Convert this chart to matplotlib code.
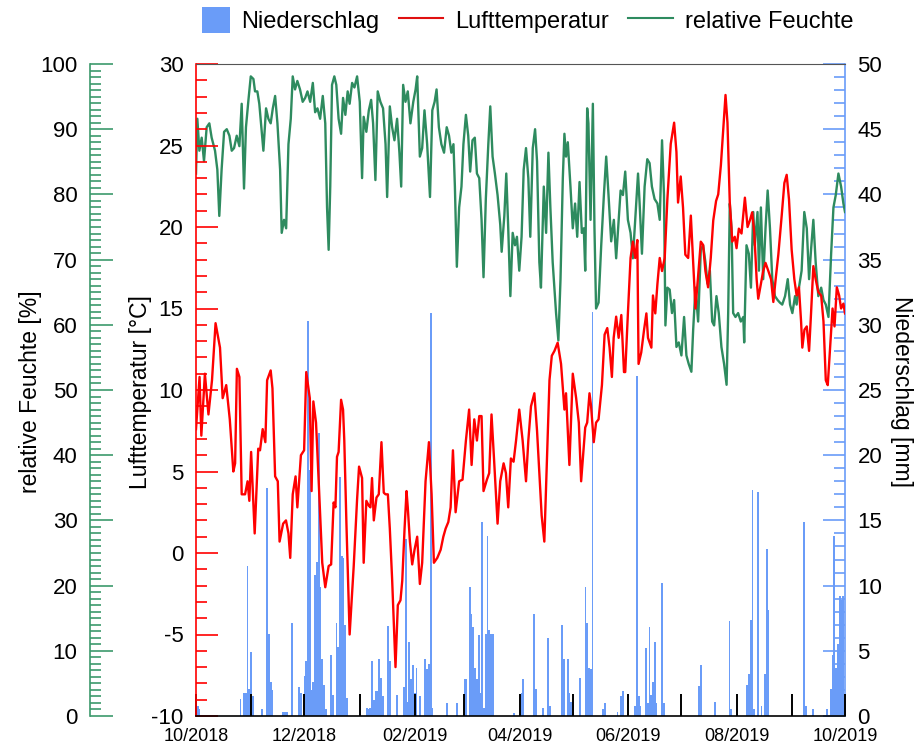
import numpy as np
import matplotlib
matplotlib.use("Agg")
import matplotlib.pyplot as plt
import matplotlib.dates as mdates
from matplotlib.patches import Patch, Rectangle
from matplotlib.lines import Line2D
from matplotlib.legend_handler import HandlerPatch
from datetime import datetime

plt.rcParams['font.family'] = ['Liberation Sans', 'DejaVu Sans']
plt.rcParams['axes.unicode_minus'] = False

# days since 01.10.2018
temp_day = [0, 2, 3, 5, 7, 9, 11, 13.5, 15, 17, 19, 21, 22, 23, 24.4, 25.7, 27.6, 29, 30, 31,
            33, 35, 36, 37.5, 39, 40, 42, 43, 44.5, 46, 47, 49, 50.6, 52, 53, 54.4, 56, 57, 59, 60.8,
            62, 64, 65, 66, 67.5, 69, 71, 72.7, 74.6, 76, 77.4, 78.4, 79.3, 80.2, 81.6, 82.7, 83.4, 84.6, 86.4, 88.7,
            90.6, 91.7, 93.4, 94.3, 95.8, 97.2, 98.1, 99, 100, 101.5, 102.8, 104.3, 105.6, 106.6, 107.9, 109, 110.3, 112.2, 113.5, 115,
            116, 117.3, 118.4, 119.1, 120.3, 121.6, 122.9, 124.4, 125.9, 127.2, 129.1, 131, 132.5, 133.8, 135.7, 137.6, 139.1, 140.4, 141.9, 143.2,
            144.5, 146, 148, 149.9, 151.8, 153.6, 155, 156.5, 158, 159.3, 160.6, 161.7, 163.6, 164.9, 166.2, 167.7, 169.6, 171.1, 173, 174.3,
            175.6, 177.1, 178.6, 180, 181.8, 183.7, 185.6, 186.9, 188.4, 190.3, 191.8, 193.1, 194.4, 195.9, 197.4, 198.8, 200.1, 201.6, 203.4, 205.3,
            207.2, 208.1, 210, 211.9, 213.8, 215.3, 216.6, 218.9, 220, 221.3, 222.2, 223.7, 225, 226.4, 228.3, 229.8, 231.3, 232.6, 233.9, 234.9,
            236.3, 237.7, 239.2, 240.7, 241.4, 242.9, 244.4, 245.7, 247, 248.2, 248.9, 250.4, 252, 253.3, 254.2, 256.1, 257, 258.3, 259.5, 260.8,
            262.1, 263.6, 265.1, 267, 268.9, 270.2, 271.1, 272.6, 273.9, 275.2, 276.8, 278.3, 279.6, 280.9, 282.4, 283.9, 285.2, 286.5, 288, 289.5,
            290.9, 292.5, 293.7, 295.2, 296.5, 297.8, 298.9, 300.2, 301.6, 303, 304, 305.3, 306.8, 308.7, 310.2, 311.5, 312.8, 314, 315.3, 316.2,
            317.7, 319, 320.3, 321.9, 323.4, 324.7, 326, 327.5, 329.4, 330.9, 332.2, 333.5, 335, 336.5, 337.8, 339.1, 340.3, 341, 342.2, 343.5,
            344.8, 345.9, 347.2, 348.5, 350, 351.6, 352.9, 354.2, 355.3, 356.6, 358, 359.1, 360.4, 361.7, 362.8, 364.1, 365]
temp_val = [7.6, 10.8, 7.2, 11.0, 8.5, 10.6, 14.1, 12.6, 9.5, 10.3, 8.2, 5.0, 5.5, 11.3, 10.8, 3.6, 3.6, 4.4, 3.2, 6.2,
            1.2, 6.4, 6.3, 7.6, 6.8, 10.6, 11.2, 10.1, 4.7, 4.4, 0.7, 1.8, 2.0, 1.2, -0.3, 3.6, 4.7, 2.8, 6.0, 6.3,
            11.1, 9.5, 3.8, 9.3, 8.0, 4.4, -0.6, -2.1, -0.8, -0.7, 3.1, 2.8, 5.9, 6.2, 9.4, 8.8, 6.9, 1.8, -5.0, -0.8,
            3.3, 5.3, 4.6, -0.6, 3.2, 2.9, 2.8, 4.6, 2.0, 3.4, 3.6, 6.8, 3.7, 3.6, 3.6, 1.5, -1.6, -7.0, -3.2, -2.9,
            -1.7, 1.5, 3.8, 2.8, 0.7, -0.7, 0.2, 1.0, -1.9, -0.6, 4.4, 6.8, 3.6, -0.6, -0.3, 0.2, 1.0, 1.5, 1.9, 2.8,
            6.3, 2.5, 4.4, 4.5, 6.9, 8.8, 5.4, 8.2, 6.9, 8.4, 8.4, 3.8, 4.5, 4.9, 8.5, 5.6, 1.8, 4.4, 5.5, 4.9,
            2.8, 5.8, 5.6, 6.9, 8.8, 6.9, 4.4, 6.9, 9.0, 9.8, 7.5, 4.9, 2.3, 0.7, 5.9, 10.6, 12.1, 12.4, 12.9, 11.6,
            8.8, 9.8, 5.4, 11.0, 9.5, 8.0, 4.4, 7.7, 8.0, 9.8, 9.0, 6.8, 8.0, 8.2, 10.3, 13.4, 13.8, 12.6, 10.8, 13.2,
            14.5, 13.2, 14.6, 11.1, 11.1, 14.7, 18.1, 19.1, 18.1, 19.2, 11.6, 12.3, 13.7, 14.7, 13.2, 12.6, 15.8, 14.7, 16.5, 18.1,
            17.3, 18.1, 21.7, 25.1, 26.4, 24.6, 21.5, 23.1, 21.2, 18.3, 18.1, 20.7, 17.8, 15.0, 17.0, 19.1, 18.9, 17.3, 16.3, 18.1,
            20.4, 21.6, 22.0, 23.8, 25.9, 28.1, 26.4, 21.5, 19.1, 19.4, 18.7, 19.9, 19.6, 21.8, 20.0, 20.4, 20.9, 19.6, 16.8, 15.6,
            16.5, 17.3, 17.8, 17.3, 16.8, 15.4, 16.8, 18.3, 20.7, 22.7, 23.2, 21.7, 18.6, 16.8, 15.8, 16.3, 14.2, 12.6, 13.7, 13.9,
            12.4, 14.7, 17.6, 16.8, 16.0, 15.8, 14.2, 10.6, 10.3, 12.6, 15.0, 13.9, 16.3, 15.8, 15.0, 15.3, 14.7]

hum_day = [0, 0.75, 1.9, 3.2, 4.5, 6, 7.5, 8.8, 10.7, 12, 13.1, 14.4, 15.8, 17.3, 18.8, 20.1, 21.4, 22.9, 24.4, 25.7,
           27, 28.1, 29.5, 30.8, 32.3, 33.2, 34.5, 35.6, 37, 37.9, 39.4, 40.7, 42, 43.2, 44.5, 45.8, 47.3, 48.2, 49.5, 50.7,
           52, 53.3, 54.4, 55.7, 57, 58.5, 60, 61.4, 62.7, 64.2, 65.7, 67, 68.3, 69.8, 71.3, 72.7, 73.7, 74.6, 75.5, 76.5,
           77.8, 78.9, 80.2, 81.6, 82.7, 84, 85.3, 86.4, 87.8, 89.1, 90.6, 92.1, 93.4, 94.3, 95.8, 97.2, 98.5, 99.6, 100.9, 102.2,
           103.7, 105.2, 106.6, 107.5, 109, 110.3, 111.6, 113.1, 114.4, 115.4, 116.5, 117.8, 119.1, 120.6, 122.2, 123.5, 124.4, 125.9, 127.2, 128.5,
           130, 131.6, 132.9, 134.2, 135.3, 136.6, 138, 139.5, 141, 142.3, 143.6, 144.8, 145.6, 146.7, 148, 149.3, 150.4, 151.8, 153.1, 154.2,
           155.5, 156.8, 158, 159.3, 160.6, 161.7, 163, 164.4, 165.5, 166.8, 168.1, 169.6, 171.1, 171.9, 173.4, 174.5, 175.6, 176.8, 178.1, 179.4,
           180.5, 181.8, 183.1, 184.3, 185.6, 186.9, 188, 189.4, 190.7, 191.8, 193.1, 194, 195.6, 196.9, 198.2, 199.3, 200.6, 202.5, 203.8, 205,
           206.3, 207.2, 208.1, 209.1, 210.6, 211.9, 213.2, 214.4, 215.7, 217, 218.1, 218.9, 220, 220.7, 221.9, 223.2, 224.1, 225, 226.4, 227.9,
           229.4, 230.7, 232, 233.5, 235, 236.3, 237.7, 238.8, 240.1, 241.4, 242.9, 244.4, 245.7, 247, 248.6, 249.5, 250.8, 252.3, 253.8, 255.1,
           256.4, 257.9, 259.5, 260.8, 262.1, 263.2, 264, 265.1, 266.4, 267.7, 268.9, 270.2, 271.5, 273, 274.5, 275.8, 277.1, 278.6, 279.6, 280.9,
           282.4, 283.9, 285.2, 286.5, 287.7, 289, 290.3, 291.4, 292.7, 294, 295.5, 297, 298.4, 299.3, 300.2, 301.2, 302.1, 303.4, 304.9, 306.4,
           307.8, 308.3, 309.6, 310.9, 312.1, 313.4, 314.3, 315.8, 316.6, 317.7, 319, 320.3, 321.5, 322.8, 324.1, 325.6, 327.1, 328.4, 329.7, 331.3,
           332.8, 334.1, 335.4, 336.9, 337.8, 339.1, 340.6, 342.1, 343.5, 344.8, 345.9, 347.2, 348.5, 350, 351.6, 352.9, 354.2, 355.7, 357.2, 358.5,
           359.8, 361.3, 362.8, 364.1, 365]
hum_val = [83.2, 91.6, 86.7, 88.7, 85.1, 90.3, 90.9, 88.7, 86.7, 83.8, 76.7, 83.8, 89.6, 90.0, 89.0, 86.7, 87.1, 89.0, 87.4, 93.9,
           80.9, 90.3, 94.5, 98.1, 97.7, 95.8, 95.8, 93.9, 89.6, 86.7, 93.2, 91.6, 90.9, 93.2, 95.1, 90.9, 83.8, 74.1, 76.1, 74.8,
           87.7, 91.6, 98.1, 96.1, 97.4, 96.1, 94.2, 94.8, 95.8, 94.2, 97.1, 92.6, 93.2, 91.6, 95.1, 90.9, 78.0, 71.5, 81.2, 96.8,
           98.1, 96.8, 91.6, 89.3, 94.8, 92.2, 95.8, 93.9, 97.1, 96.4, 98.1, 94.2, 82.5, 91.9, 89.6, 92.9, 94.5, 90.9, 82.2, 95.8,
           94.2, 93.2, 87.7, 79.6, 93.5, 90.3, 88.3, 91.6, 86.4, 81.2, 96.8, 94.2, 95.8, 90.9, 94.2, 96.1, 98.1, 85.8, 87.1, 92.9,
           87.7, 79.6, 92.9, 94.2, 96.1, 90.3, 87.7, 86.4, 90.3, 89.0, 86.4, 87.7, 81.2, 68.9, 78.0, 81.2, 87.7, 92.2, 89.0, 83.5,
           88.3, 88.7, 83.2, 82.5, 76.1, 67.3, 79.3, 87.7, 93.5, 85.8, 83.2, 79.9, 75.4, 71.2, 76.7, 83.2, 74.8, 64.4, 74.1, 72.2,
           73.5, 68.3, 73.5, 83.8, 87.1, 82.5, 73.5, 87.1, 90.0, 85.1, 69.6, 65.7, 81.2, 74.1, 86.4, 78.0, 69.6, 61.8, 57.6, 67.0,
           82.5, 89.3, 85.8, 88.0, 81.2, 74.8, 78.6, 73.5, 81.9, 74.1, 74.8, 68.3, 93.2, 90.9, 76.1, 93.9, 74.8, 62.5, 63.4, 72.2,
           79.9, 85.8, 79.9, 72.8, 76.1, 70.2, 76.1, 80.6, 79.9, 83.5, 76.1, 74.1, 70.2, 76.1, 83.2, 78.6, 70.9, 81.2, 85.4, 84.8,
           81.2, 79.3, 78.6, 76.1, 88.3, 79.9, 59.9, 65.7, 65.4, 61.8, 63.8, 56.6, 57.3, 55.3, 61.2, 55.3, 54.0, 52.8, 59.2, 65.7,
           60.5, 71.5, 72.2, 69.6, 66.3, 68.3, 60.5, 59.9, 64.4, 61.8, 56.6, 54.0, 50.8, 61.8, 78.6, 74.8, 61.8, 61.2, 61.8, 60.5,
           61.2, 57.3, 72.2, 70.9, 65.7, 77.3, 72.2, 77.3, 68.3, 78.0, 67.0, 74.8, 80.6, 74.8, 67.0, 64.4, 63.8, 63.4, 63.1, 64.4,
           67.0, 63.1, 61.8, 64.4, 63.1, 65.7, 68.3, 77.3, 74.8, 67.0, 71.5, 76.1, 69.6, 64.4, 65.7, 63.8, 63.1, 61.2, 70.9, 78.0,
           79.9, 83.2, 81.2, 78.6, 77.3]

rain_day = [1, 2, 25, 27, 28, 29, 30, 31, 32, 37, 40, 41, 42, 43, 49, 50, 51, 54, 58, 59,
            61, 62, 63, 64, 65, 66, 67, 68, 69, 70, 71, 72, 73, 76, 77, 79, 80, 81, 82, 83,
            84, 85, 96, 97, 98, 99, 100, 101, 102, 103, 104, 105, 108, 109, 113, 117, 118, 119, 120, 121,
            122, 123, 124, 126, 129, 130, 131, 132, 133, 141, 147, 151, 152, 154, 155, 156, 157, 158, 159, 160,
            161, 162, 163, 164, 165, 166, 167, 179, 183, 184, 190, 191, 195, 198, 199, 206, 207, 209, 210, 211,
            216, 219, 220, 221, 222, 223, 229, 230, 237, 239, 240, 247, 248, 249, 250, 253, 254, 255, 256, 257,
            258, 259, 262, 263, 283, 284, 292, 300, 301, 310, 311, 312, 313, 314, 316, 318, 320, 321, 322, 342,
            343, 347, 355, 357, 358, 359, 360, 361, 362, 363, 364]
rain_mm = [0.8, 0.5, 1.3, 1.8, 1.8, 11.5, 2.1, 4.9, 1.5, 0.5, 17.5, 6.3, 2.6, 2.0, 0.3, 0.3, 0.3, 7.1, 2.2, 1.8,
           3.1, 4.2, 30.3, 18.9, 2.0, 2.6, 10.8, 11.8, 21.7, 9.9, 4.4, 2.4, 0.5, 4.7, 1.6, 7.1, 5.3, 18.3, 12.3, 12.1,
           7.0, 1.4, 0.6, 0.5, 0.6, 4.2, 1.2, 1.9, 1.9, 4.4, 2.9, 1.5, 6.9, 4.2, 1.6, 2.2, 13.6, 1.1, 5.7, 2.8,
           3.9, 1.8, 3.7, 1.5, 4.4, 3.6, 4.0, 30.9, 0.6, 1.0, 1.0, 2.8, 2.8, 9.9, 7.8, 6.8, 3.7, 2.8, 6.2, 1.8,
           14.9, 0.6, 6.3, 13.8, 6.6, 6.3, 6.3, 0.2, 1.8, 2.8, 7.8, 2.1, 0.6, 6.0, 0.8, 7.0, 4.4, 4.4, 1.8, 1.1,
           2.9, 9.9, 7.1, 3.7, 3.6, 31.0, 0.5, 1.0, 0.3, 1.5, 1.9, 0.8, 26.1, 1.5, 0.8, 5.2, 1.0, 6.8, 1.6, 2.6,
           5.7, 1.0, 10.2, 1.0, 2.3, 3.9, 1.1, 7.3, 0.5, 2.4, 3.2, 7.4, 17.3, 0.5, 17.2, 0.8, 3.2, 12.8, 8.1, 14.9,
           0.8, 0.5, 0.5, 2.1, 4.7, 13.8, 3.7, 5.5, 9.2, 8.9, 9.2]

red = '#ff0000'
green = '#2e8b5f'
green_ax = '#3c9a6c'
blue = '#6a9cf8'

x0 = mdates.date2num(datetime(2018, 10, 1))
t_x = x0 + np.array(temp_day)
h_x = x0 + np.array(hum_day)
r_x = x0 + np.array(rain_day)

fig = plt.figure(figsize=(9.17, 7.49), dpi=100)
ax_t = fig.add_axes([196/917, 1-716/749, 649/917, 652/749])
ax_p = ax_t.twinx()
ax_h = ax_t.twinx()
ax_p.set_zorder(1)
ax_h.set_zorder(2)
ax_t.set_zorder(3)
for a in (ax_t, ax_p, ax_h):
    a.patch.set_visible(False)

# precipitation bars
ax_p.bar(r_x, rain_mm, width=1.0, color=blue, linewidth=0, align='center')
ax_p.set_ylim(0, 50)
ax_p.set_yticks(np.arange(0, 51, 5))
ax_p.set_yticks(np.arange(0, 51, 1), minor=True)
ax_p.tick_params(axis='y', which='major', direction='in', length=16, width=1.2, color=blue, labelsize=16, pad=9)
ax_p.tick_params(axis='y', which='minor', direction='in', length=8, width=1.2, color=blue)
for s in ('left', 'top', 'bottom'):
    ax_p.spines[s].set_visible(False)
ax_p.spines['right'].set_color(blue)
ax_p.spines['right'].set_linewidth(1.2)

# humidity
ax_h.plot(h_x, hum_val, color=green, lw=1.7)
ax_h.set_ylim(0, 100)
ax_h.yaxis.tick_left()
ax_h.spines['left'].set_position(('axes', -106/649))
for s in ('right', 'top', 'bottom'):
    ax_h.spines[s].set_visible(False)
ax_h.spines['left'].set_visible(True)
ax_h.spines['left'].set_color(green_ax)
ax_h.spines['left'].set_linewidth(1.2)
ax_h.set_yticks(np.arange(0, 101, 10))
ax_h.set_yticks(np.arange(0, 101, 1), minor=True)
ax_h.tick_params(axis='y', which='major', direction='in', length=16.5, width=1.2, color=green_ax, labelsize=16, pad=9)
ax_h.tick_params(axis='y', which='minor', direction='in', length=8, width=1.2, color=green_ax)

# temperature
ax_t.plot(t_x, temp_val, color=red, lw=1.7)
ax_t.set_ylim(-10, 30)
ax_t.set_yticks(np.arange(-10, 31, 5))
ax_t.set_yticks(np.arange(-10, 31, 1), minor=True)
ax_t.tick_params(axis='y', which='major', direction='in', length=16, width=1.2, color=red, labelsize=16, pad=9)
ax_t.tick_params(axis='y', which='minor', direction='in', length=8, width=1.2, color=red)
ax_t.spines['right'].set_visible(False)
ax_t.spines['left'].set_color(red)
ax_t.spines['left'].set_linewidth(1.2)
ax_t.spines['top'].set_color('#555555')
ax_t.spines['bottom'].set_color('black')
ax_t.spines['bottom'].set_linewidth(1.2)

ax_t.set_xlim(x0, x0 + 365)
ax_t.xaxis.set_major_locator(mdates.MonthLocator(bymonth=[2, 4, 6, 8, 10, 12]))
ax_t.xaxis.set_minor_locator(mdates.MonthLocator())
ax_t.xaxis.set_major_formatter(mdates.DateFormatter('%m/%Y'))
ax_t.tick_params(axis='x', which='both', direction='in', length=16, width=1.4, color='black', labelsize=13, pad=8.5)

# axis titles
yc = 1 - 392/749
fig.text(30/917, yc, 'relative Feuchte [%]', rotation=90, ha='center', va='center', fontsize=16.5)
fig.text(140/917, yc, 'Lufttemperatur [°C]', rotation=90, ha='center', va='center', fontsize=16.5)
fig.text(901/917, yc, 'Niederschlag [mm]', rotation=270, ha='center', va='center', fontsize=16.5)


def small_box(legend, orig_handle, xdescent, ydescent, width, height, fontsize):
    w = width * 0.62
    return Rectangle((width - w - xdescent, -ydescent), w, height)


handles = [Patch(facecolor=blue, edgecolor='none'),
           Line2D([], [], color='#e01010', lw=1.5),
           Line2D([], [], color=green, lw=1.5)]
fig.legend(handles, ['Niederschlag', 'Lufttemperatur', 'relative Feuchte'],
           loc='center', bbox_to_anchor=(0.566, 1 - 20/749), ncol=3, frameon=False,
           fontsize=17, handlelength=1.9, handleheight=1.3, columnspacing=0.8, handletextpad=0.5,
           handler_map={Patch: HandlerPatch(patch_func=small_box)})

fig.savefig('out.png', dpi=100)
